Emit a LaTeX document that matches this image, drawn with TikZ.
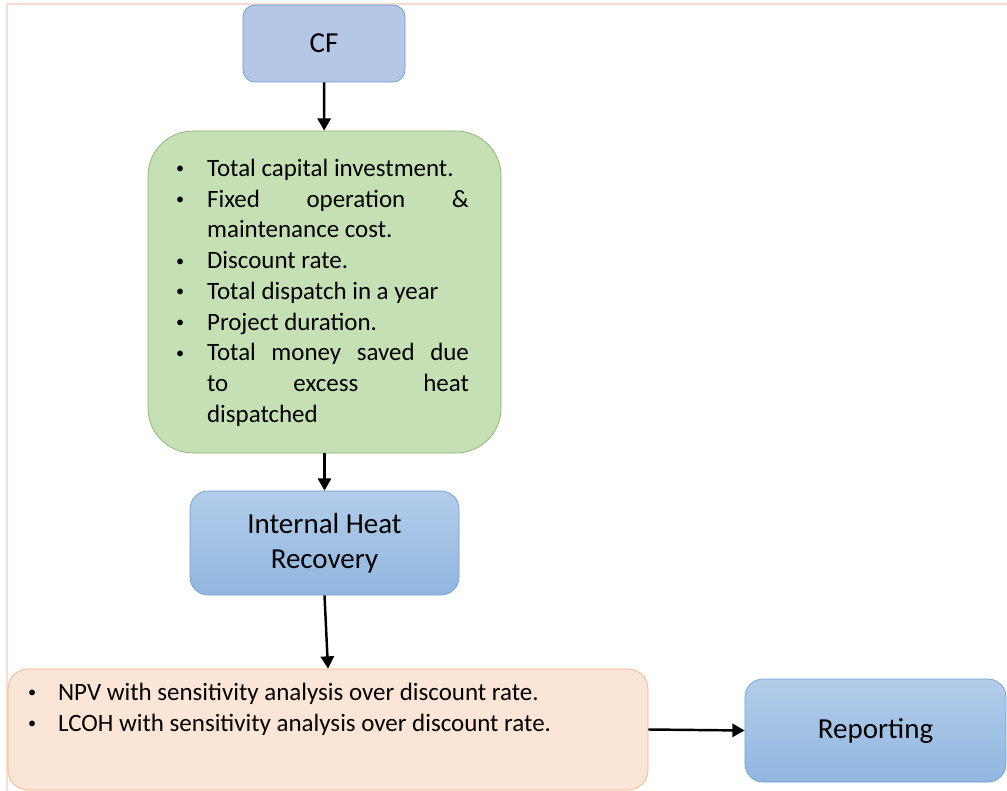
\documentclass[tikz,border=0pt]{standalone}
\usepackage{fontspec}
\setmainfont{Carlito}
\usepackage{enumitem}
\usetikzlibrary{arrows.meta}

\definecolor{cfblue}{HTML}{B4C7E7}
\definecolor{cfline}{HTML}{6F97CC}
\definecolor{gradtop}{HTML}{B3CDEA}
\definecolor{gradbot}{HTML}{91B6E0}
\definecolor{gradline}{HTML}{6A9ED6}
\definecolor{greenfill}{HTML}{C5E0B4}
\definecolor{greenline}{HTML}{88B36C}
\definecolor{orangefill}{HTML}{FBE5D6}
\definecolor{orangeline}{HTML}{F4B183}
\definecolor{framepink}{HTML}{F8DCD3}

\newcommand{\smallbul}{\raisebox{0.2ex}{\scalebox{0.65}{\textbullet}}}

\begin{document}
\begin{tikzpicture}[
		titlefont/.style={font=\fontsize{16.5}{20}\selectfont},
		bluebox/.style={draw=cfline, fill=cfblue, rounded corners=0.24cm, titlefont},
		gradbox/.style={draw=gradline, top color=gradtop, bottom color=gradbot, rounded corners=0.36cm, titlefont, align=center},
		listbox/.style={font=\fontsize{14.2}{17.5}\selectfont},
		arr/.style={-{Triangle[length=7pt,width=7.5pt]}, line width=1.4pt, black}
	]
		\useasboundingbox (0,0) rectangle (20.14,-15.82);
		\draw[framepink, line width=1.1pt] (0.14,-15.82) -- (0.14,-0.08) -- (20.14,-0.08);
		
		\node[bluebox, minimum width=3.24cm, minimum height=1.54cm] (cf) at (6.48,-0.87) {CF};
		
		\node[listbox, draw=greenline, fill=greenfill, rounded corners=0.9cm,
			minimum width=7.06cm, minimum height=6.44cm, inner xsep=18.2pt, inner ysep=0pt] (inputs) at (6.49,-5.84) {%
			\begin{minipage}[c][5.32cm][t]{164.4pt}
			\begin{itemize}[label=\smallbul, leftmargin=15.4pt, labelsep=13pt, itemsep=0pt, topsep=0pt, parsep=0pt, partopsep=0pt]
				\item Total capital investment.
				\item Fixed operation \&\linebreak maintenance cost.
				\item Discount rate.
				\item Total dispatch in a year
				\item Project duration.
				\item Total money saved due\linebreak to excess heat\linebreak dispatched
			\end{itemize}
			\end{minipage}};
		
		\node[gradbox, minimum width=5.38cm, minimum height=2.08cm] (ihr) at (6.49,-10.86) {Internal Heat\\Recovery};
		
		\node[listbox, draw=orangeline, fill=orangefill, rounded corners=0.4cm,
			minimum width=12.8cm, minimum height=2.42cm, inner xsep=13.66pt, inner ysep=0pt] (results) at (6.56,-14.59) {%
			\begin{minipage}[c][1.86cm][t]{336.8pt}
			\begin{itemize}[label=\smallbul, leftmargin=14.8pt, labelsep=12.4pt, itemsep=0pt, topsep=0pt, parsep=0pt, partopsep=0pt]
				\item NPV with sensitivity analysis over discount rate.
				\item LCOH with sensitivity analysis over discount rate.
			\end{itemize}
			\end{minipage}};
		
		\node[gradbox, minimum width=5.22cm, minimum height=2.06cm] (report) at (17.51,-14.61) {Reporting};
		
		\draw[arr] (cf) -- (inputs);
		\draw[arr] (inputs) -- (ihr);
		\draw[arr] (ihr.south) -- (results.north);
		\draw[arr] (results.east) -- (report.west);
	\end{tikzpicture}
\end{document}
